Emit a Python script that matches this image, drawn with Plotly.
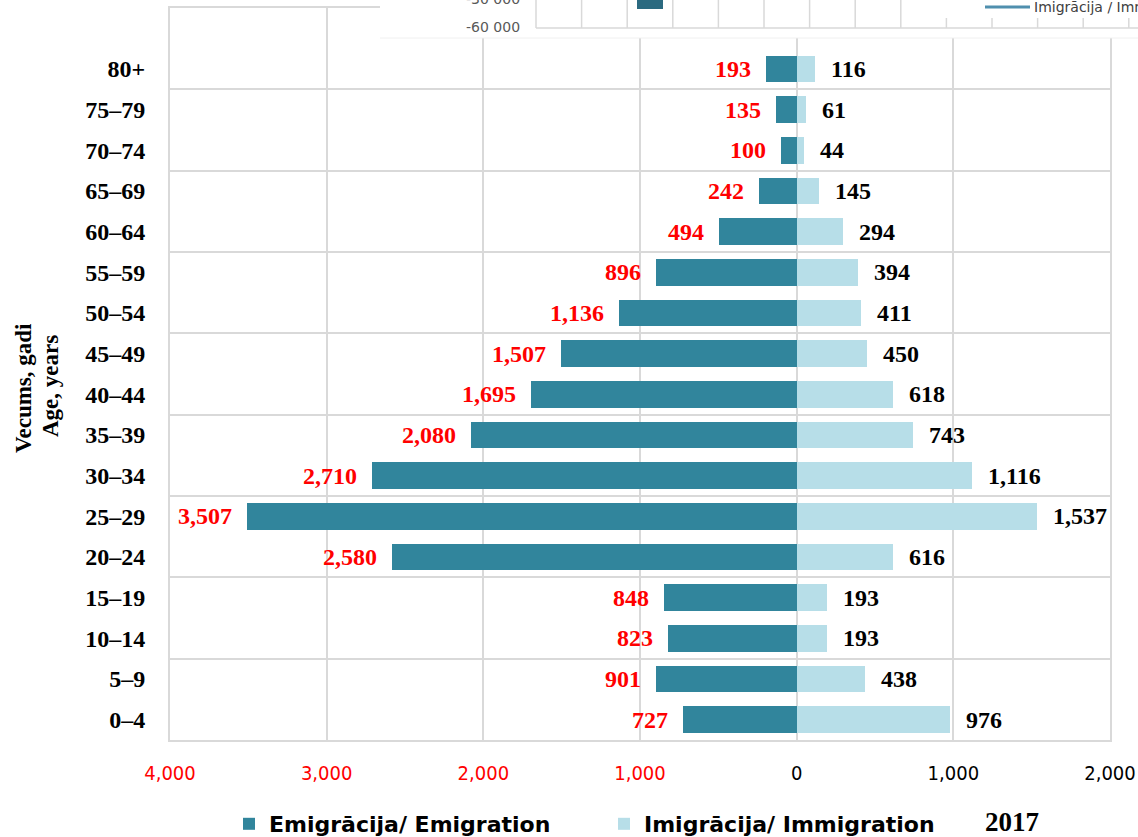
import plotly.graph_objects as go

ages = ["0–4", "5–9", "10–14", "15–19", "20–24", "25–29", "30–34", "35–39", "40–44",
        "45–49", "50–54", "55–59", "60–64", "65–69", "70–74", "75–79", "80+"]
emigration = [727, 901, 823, 848, 2580, 3507, 2710, 2080, 1695, 1507, 1136, 896, 494, 242, 100, 135, 193]
immigration = [976, 438, 193, 193, 616, 1537, 1116, 743, 618, 450, 411, 394, 294, 145, 44, 61, 116]
x_ticks = [-4000, -3000, -2000, -1000, 0, 1000, 2000]
year_label = "2017"

EMI_COL = "#31859C"
IMM_COL = "#B7DEE8"
GRID = "#d9d9d9"
SERIF = "Liberation Serif, Times New Roman, serif"
SANS_C = "DejaVu Sans Condensed, Tahoma, DejaVu Sans, sans-serif"
SANS = "DejaVu Sans, Verdana, sans-serif"

# page body margin is removed below, so the figure fills the window from (0, 0)
W, H = 1138, 837
L, R, T, B = 170, 28, 8, 97
PW, PH = W - L - R, H - T - B

def px2x(px):   # window pixel -> paper x
    return (px - L) / PW

def px2y(py):   # window pixel -> paper y
    return (H - B - py) / PH

idx = list(range(len(ages)))

fig = go.Figure()
fig.add_trace(go.Bar(
    y=idx, x=[-v for v in emigration], orientation="h", name="<b>Emigrācija/ Emigration</b>",
    marker=dict(color=EMI_COL, line=dict(width=0)), width=0.65, hoverinfo="skip"))
fig.add_trace(go.Bar(
    y=idx, x=immigration, orientation="h", name="<b>Imigrācija/ Immigration</b>",
    marker=dict(color=IMM_COL, line=dict(width=0)), width=0.65, hoverinfo="skip"))

annotations = []
for i, (e, m) in enumerate(zip(emigration, immigration)):
    annotations.append(dict(x=-e, y=i, xref="x", yref="y", text=f"<b>{e:,}</b>",
                            showarrow=False, xanchor="right", yanchor="middle", xshift=-13,
                            font=dict(family=SERIF, size=24, color="#FF0000")))
    annotations.append(dict(x=m, y=i, xref="x", yref="y", text=f"<b>{m:,}</b>",
                            showarrow=False, xanchor="left", yanchor="middle", xshift=14,
                            font=dict(family=SERIF, size=24, color="#000000")))

# y axis title (two lines)
annotations.append(dict(x=px2x(23), y=px2y(388), xref="paper", yref="paper", text="<b>Vecums, gadi</b>",
                        textangle=-90, showarrow=False, xanchor="center", yanchor="middle",
                        font=dict(family=SERIF, size=23, color="#000")))
annotations.append(dict(x=px2x(50), y=px2y(386), xref="paper", yref="paper", text="<b>Age, years</b>",
                        textangle=-90, showarrow=False, xanchor="center", yanchor="middle",
                        font=dict(family=SERIF, size=23, color="#000")))
annotations.append(dict(x=px2x(1012), y=px2y(822), xref="paper", yref="paper", text=f"<b>{year_label}</b>",
                        showarrow=False, xanchor="center", yanchor="middle",
                        font=dict(family=SERIF, size=27, color="#000")))

tick_text = []
for v in x_ticks:
    s = f"{abs(v):,}"
    tick_text.append(f'<span style="color:#FF0000">{s}</span>' if v < 0 else s)

# --- overlapping fragment of another chart at the top (screenshot artefact) ---
shapes = []
shapes.append(dict(type="rect", xref="paper", yref="paper", x0=px2x(380), x1=px2x(1140),
                   y0=px2y(38), y1=px2y(-2), fillcolor="white", line=dict(width=0), layer="above"))
shapes.append(dict(type="line", xref="paper", yref="paper", x0=px2x(380), x1=px2x(1140),
                   y0=px2y(38), y1=px2y(38), line=dict(color="#f0f0f0", width=1), layer="above"))
inset_lines = [536 + k * 45.6 for k in range(14)]
for k, xx in enumerate(inset_lines):
    top = -1 if k <= 8 else 18
    shapes.append(dict(type="line", xref="paper", yref="paper", x0=px2x(xx), x1=px2x(xx),
                       y0=px2y(28), y1=px2y(top), line=dict(color="#d9d9d9", width=1.5), layer="above"))
shapes.append(dict(type="line", xref="paper", yref="paper", x0=px2x(536), x1=px2x(1140),
                   y0=px2y(28), y1=px2y(28), line=dict(color="#d9d9d9", width=1.5), layer="above"))
shapes.append(dict(type="rect", xref="paper", yref="paper", x0=px2x(637), x1=px2x(663),
                   y0=px2y(9), y1=px2y(-2), fillcolor="#2B6A80", line=dict(width=0), layer="above"))
shapes.append(dict(type="line", xref="paper", yref="paper", x0=px2x(985), x1=px2x(1030),
                   y0=px2y(7), y1=px2y(7), line=dict(color="#4F8FAE", width=3), layer="above"))
annotations.append(dict(x=px2x(522), y=px2y(-1), xref="paper", yref="paper", text="-30 000",
                        showarrow=False, xanchor="right", yanchor="middle",
                        font=dict(family=SANS, size=14, color="#595959")))
annotations.append(dict(x=px2x(522), y=px2y(27), xref="paper", yref="paper", text="-60 000",
                        showarrow=False, xanchor="right", yanchor="middle",
                        font=dict(family=SANS, size=14, color="#595959")))
annotations.append(dict(x=px2x(1032), y=px2y(7), xref="paper", yref="paper", text="Imigrācija / Immigration",
                        showarrow=False, xanchor="left", yanchor="middle",
                        font=dict(family=SANS, size=14, color="#404040")))

fig.update_layout(
    width=W, height=H,
    margin=dict(l=L, r=R, t=T, b=B, pad=0, autoexpand=False),
    paper_bgcolor="white", plot_bgcolor="white",
    barmode="overlay", bargap=0,
    showlegend=True,
    legend=dict(orientation="h", x=px2x(229), y=px2y(824), xanchor="left", yanchor="middle",
                font=dict(family=SANS, size=22, color="#000"), entrywidth=330, entrywidthmode="pixels",
                itemsizing="constant", traceorder="normal"),
    annotations=annotations,
    shapes=shapes,
    xaxis=dict(range=[-4000, 2000], tickvals=x_ticks, ticktext=tick_text, automargin=False,
               showgrid=True, gridcolor=GRID, gridwidth=2, zeroline=False,
               showline=True, linecolor=GRID, linewidth=2, mirror=True,
               ticks="", ticklabelstandoff=14,
               tickfont=dict(family=SANS_C, size=20, color="#000"), fixedrange=True),
    yaxis=dict(range=[-0.5, 17.5], tickvals=idx, ticktext=[f"<b>{a}</b>" for a in ages], automargin=False,
               showgrid=False, zeroline=False,
               showline=True, linecolor=GRID, linewidth=2, mirror=True,
               ticks="", ticklabelstandoff=18,
               minor=dict(tickvals=[i - 0.5 for i in range(0, 17, 2)], showgrid=True,
                          gridcolor=GRID, gridwidth=2, ticks=""),
               tickfont=dict(family=SERIF, size=24, color="#000"), fixedrange=True),
)

fig.write_html("out.html", config={"displayModeBar": False},
               post_script="document.body.style.margin='0px';")
